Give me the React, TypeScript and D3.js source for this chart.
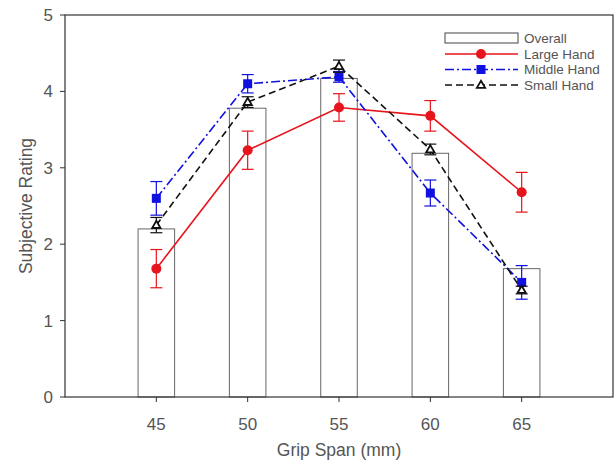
import React from 'react';
import * as d3 from 'd3';

// grip span categories (mm)
const spans = [45, 50, 55, 60, 65];
const overall = [2.2, 3.78, 4.17, 3.19, 1.68];
const large = [1.68, 3.23, 3.79, 3.68, 2.68];
const largeErr = [0.25, 0.25, 0.18, 0.2, 0.26];
const middle = [2.6, 4.1, 4.19, 2.67, 1.5];
const middleErr = [0.22, 0.12, 0.07, 0.17, 0.22];
const small = [2.25, 3.86, 4.33, 3.24, 1.4];
const smallErr = [0.1, 0.07, 0.08, 0.07, 0.05];
const yTicks = [0, 1, 2, 3, 4, 5];

const W = 616;
const H = 461;
const m = { top: 15, right: 3, bottom: 64, left: 65 };
const txt = '#555';
const font = '"Liberation Sans", Arial, sans-serif';

const x = d3.scaleLinear().domain([40, 70]).range([m.left, W - m.right]);
const y = d3.scaleLinear().domain([0, 5]).range([H - m.bottom, m.top]);

type Series = { name: string; vals: number[]; err: number[]; color: string; dash: string; shape: string };

const series: Series[] = [
  { name: 'Large Hand', vals: large, err: largeErr, color: '#e8141c', dash: '', shape: 'circle' },
  { name: 'Middle Hand', vals: middle, err: middleErr, color: '#1010e0', dash: '9,3,2,3', shape: 'square' },
  { name: 'Small Hand', vals: small, err: smallErr, color: '#111', dash: '7,4', shape: 'triangle' },
];

function Marker({ shape, cx, cy, color }: { shape: string; cx: number; cy: number; color: string }) {
  if (shape === 'circle') return <circle cx={cx} cy={cy} r={5} fill={color} />;
  if (shape === 'square') return <rect x={cx - 4.5} y={cy - 4.5} width={9} height={9} fill={color} />;
  const sym = d3.symbol().type(d3.symbolTriangle).size(30)();
  return <path d={sym || ''} transform={`translate(${cx},${cy + 0.5})`} fill="#fff" stroke={color} strokeWidth={1.8} />;
}

export default function App() {
  const barW = x(41) - x(40);
  return (
    <svg width={W} height={H} style={{ position: 'absolute', left: 0, top: 0, background: '#fff' }} fontFamily={font}>
      {/* overall bars */}
      {spans.map((s, i) => (
        <rect key={s} x={x(s) - barW} y={y(overall[i])} width={barW * 2} height={y(0) - y(overall[i])}
          fill="#fff" stroke="#666" strokeWidth={1} />
      ))}
      {series.map(se => {
        const line = d3.line<number>().x((_, i) => x(spans[i])).y(v => y(v));
        return (
          <g key={se.name}>
            <path d={line(se.vals) || ''} fill="none" stroke={se.color} strokeWidth={1.6} strokeDasharray={se.dash} />
            {se.vals.map((v, i) => {
              const cx = x(spans[i]);
              const y1 = y(v + se.err[i]);
              const y2 = y(v - se.err[i]);
              return (
                <g key={i} stroke={se.color} strokeWidth={1.2}>
                  <line x1={cx} x2={cx} y1={y1} y2={y2} />
                  <line x1={cx - 6} x2={cx + 6} y1={y1} y2={y1} />
                  <line x1={cx - 6} x2={cx + 6} y1={y2} y2={y2} />
                </g>
              );
            })}
            {se.vals.map((v, i) => (
              <Marker key={i} shape={se.shape} cx={x(spans[i])} cy={y(v)} color={se.color} />
            ))}
          </g>
        );
      })}
      {/* frame */}
      <rect x={m.left} y={m.top} width={W - m.right - m.left} height={H - m.bottom - m.top} fill="none" stroke="#333" strokeWidth={1.2} />
      {/* y axis */}
      {yTicks.map(t => (
        <g key={t}>
          <line x1={m.left - 5} x2={m.left} y1={y(t)} y2={y(t)} stroke="#333" />
          <text x={m.left - 12} y={y(t)} dy="0.35em" textAnchor="end" fontSize={17} fill={txt}>{t}</text>
        </g>
      ))}
      {/* x axis */}
      {spans.map(s => (
        <g key={s}>
          <line x1={x(s)} x2={x(s)} y1={y(0)} y2={y(0) + 5} stroke="#333" />
          <text x={x(s)} y={y(0) + 33} textAnchor="middle" fontSize={17} fill={txt}>{s}</text>
        </g>
      ))}
      <text x={(m.left + W - m.right) / 2} y={H - 5} textAnchor="middle" fontSize={17.5} fill={txt}>Grip Span (mm)</text>
      <text transform={`translate(32,${(m.top + H - m.bottom) / 2}) rotate(-90)`} textAnchor="middle" fontSize={17.5} fill={txt}>Subjective Rating</text>
      {/* legend */}
      <g fontSize={13.5} fill={txt}>
        <rect x={445} y={33} width={73} height={10} fill="#fff" stroke="#444" strokeWidth={1} />
        <text x={524} y={38} dy="0.35em">Overall</text>
        {series.map((se, i) => {
          const ly = 54 + i * 15.5;
          return (
            <g key={se.name}>
              <line x1={445} x2={518} y1={ly} y2={ly} stroke={se.color} strokeWidth={1.6} strokeDasharray={se.dash} />
              <Marker shape={se.shape} cx={481} cy={ly} color={se.color} />
              <text x={524} y={ly} dy="0.35em" fill={txt}>{se.name}</text>
            </g>
          );
        })}
      </g>
    </svg>
  );
}
